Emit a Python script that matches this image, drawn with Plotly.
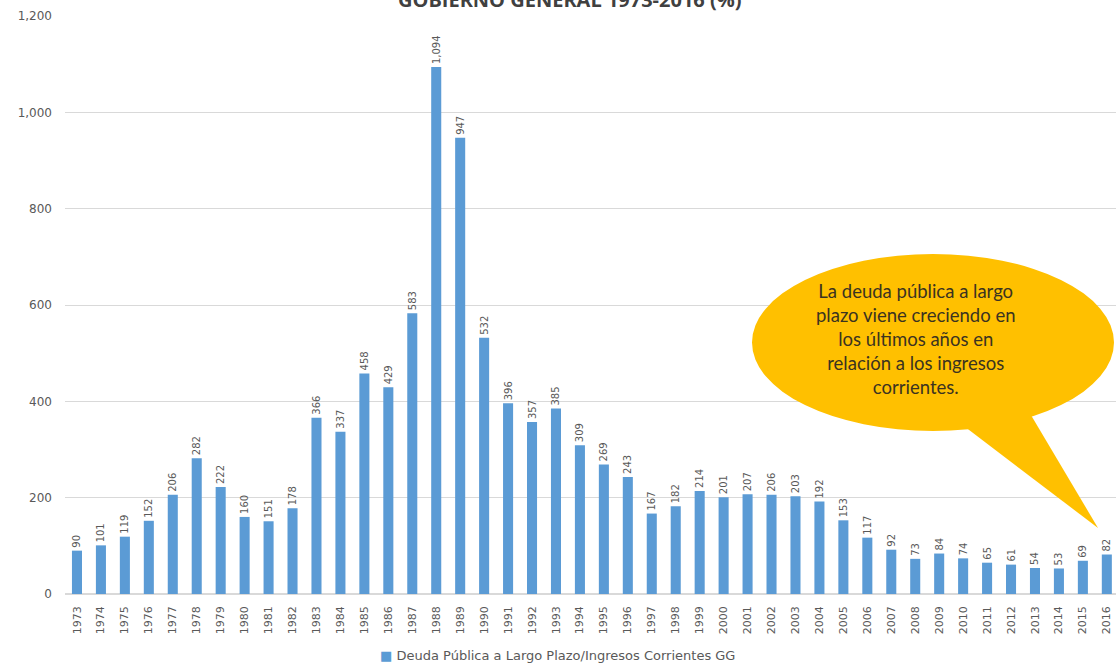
import plotly.graph_objects as go

years = list(range(1973, 2017))
values = [90, 101, 119, 152, 206, 282, 222, 160, 151, 178, 366, 337, 458, 429, 583,
          1094, 947, 532, 396, 357, 385, 309, 269, 243, 167, 182, 214, 201, 207, 206,
          203, 192, 153, 117, 92, 73, 84, 74, 65, 61, 54, 53, 69, 82]
series_name = "Deuda Pública a Largo Plazo/Ingresos Corrientes GG"
title_text = "GOBIERNO GENERAL 1973-2016 (%)"
callout_text = ("La deuda pública a largo<br>plazo viene creciendo en<br>los últimos años en"
                "<br>relación a los ingresos<br>corrientes.")
y_ticks = [0, 200, 400, 600, 800, 1000, 1200]

gray = "#595959"
blue = "#5B9BD5"
fig = go.Figure()
fig.add_trace(go.Bar(
    x=years, y=values, name=series_name, width=0.42,
    marker=dict(color=blue, line=dict(width=0)),
    texttemplate="%{y:,}", textposition="outside", textangle=-90,
    textfont=dict(size=10, color=gray, family="DejaVu Sans"),
    cliponaxis=False, constraintext="none", showlegend=False,
))

W, H = 1116, 664
L, R, T, B = 65, 0, 16, 70
def px(x):
    return (x - L) / (W - L - R)
def py(y):
    return (H - B - y) / (H - T - B)

gold = "#FFC000"
fig.add_shape(type="path", xref="paper", yref="paper",
              path=f"M {px(956)} {py(420)} L {px(1022)} {py(400)} L {px(1098)} {py(528)} Z",
              fillcolor=gold, line=dict(width=0), layer="above")
fig.add_shape(type="circle", xref="paper", yref="paper",
              x0=px(752), x1=px(1114), y0=py(431), y1=py(254),
              fillcolor=gold, line=dict(width=0), layer="above")
fig.add_annotation(xref="paper", yref="paper", x=px(915), y=py(339),
                   xanchor="center", yanchor="middle",
                   text=callout_text, showarrow=False, align="center",
                   font=dict(size=18.5, color="#3b3320", family="Lato"))
fig.add_annotation(xref="paper", yref="paper", x=px(570), y=py(-1),
                   text=f"<b>{title_text}</b>", showarrow=False,
                   xanchor="center", yanchor="middle",
                   font=dict(size=20, color="#404040", family="Open Sans"))
# legend (series key) drawn as text with a coloured square
fig.add_annotation(xref="paper", yref="paper", x=px(378), y=py(655),
                   xanchor="left", yanchor="middle", showarrow=False,
                   text=f"<span style='color:{blue}'>■</span> {series_name}",
                   font=dict(size=13, color=gray, family="DejaVu Sans"))

fig.update_layout(
    width=W, height=H, margin=dict(l=L, r=R, t=T, b=B, autoexpand=False),
    plot_bgcolor="white", paper_bgcolor="white",
    font=dict(family="DejaVu Sans", color=gray),
    showlegend=False,
)
fig.update_xaxes(range=[1972.5, 1972.5 + (W - L - R) / 23.95], tickmode="array",
                 tickvals=years, ticktext=[str(y) for y in years], tickangle=-90,
                 tickfont=dict(size=11, color=gray, family="DejaVu Sans"), showgrid=False,
                 zeroline=False, showline=False, ticks="", ticklabelstandoff=9,
                 automargin=False)
fig.update_yaxes(range=[0, 1200], tickvals=y_ticks, tickformat=",",
                 tickfont=dict(size=12, color=gray, family="DejaVu Sans"), showgrid=True,
                 gridcolor="#D9D9D9", zeroline=True, zerolinecolor="#D9D9D9",
                 showline=False, ticks="", automargin=False, ticklabelstandoff=12)

fig.write_html("out.html", config={"displayModeBar": False},
               post_script="document.body.style.margin='0';document.body.style.padding='0';")
